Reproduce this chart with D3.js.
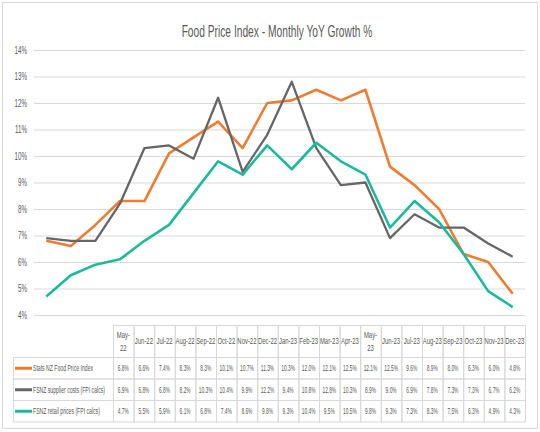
<!DOCTYPE html>
<html>
<head>
<meta charset="utf-8">
<script src="https://cdn.jsdelivr.net/npm/d3@7"></script>
<style>
  body { margin: 0; background: #fff; }
  text { font-family: "Liberation Sans", Arial, sans-serif; fill: #595959; }
</style>
</head>
<body>
<div id="chart"></div>
<script>
(function () {
    'use strict';

    // --- data ---
    var months = ['May-22', 'Jun-22', 'Jul-22', 'Aug-22', 'Sep-22', 'Oct-22', 'Nov-22', 'Dec-22',
        'Jan-23', 'Feb-23', 'Mar-23', 'Apr-23', 'May-23', 'Jun-23', 'Jul-23', 'Aug-23',
        'Sep-23', 'Oct-23', 'Nov-23', 'Dec-23'];
    var seriesNames = ['Stats NZ Food Price Index', 'FSNZ supplier costs (FPI calcs)', 'FSNZ retail prices (FPI calcs)'];
    var statsNz = [6.8, 6.6, 7.4, 8.3, 8.3, 10.1, 10.7, 11.3, 10.3, 12.0, 12.1, 12.5, 12.1, 12.5, 9.6, 8.9, 8.0, 6.3, 6.0, 4.8];
    var supplier = [6.9, 6.8, 6.8, 8.2, 10.3, 10.4, 9.9, 12.2, 9.4, 10.8, 12.8, 10.3, 8.9, 9.0, 6.9, 7.8, 7.3, 7.3, 6.7, 6.2];
    var retail = [4.7, 5.5, 5.9, 6.1, 6.8, 7.4, 8.6, 9.8, 9.3, 10.4, 9.5, 10.5, 9.8, 9.3, 7.3, 8.3, 7.5, 6.3, 4.9, 4.3];
    var yTicks = [4, 5, 6, 7, 8, 9, 10, 11, 12, 13, 14];

    var series = [statsNz, supplier, retail];
    var colors = ['#ed7d31', '#666666', '#1cb99b'];

    var W = 540, H = 432;
    var svg = d3.select('#chart').append('svg')
        .attr('width', W)
        .attr('height', H);

    svg.append('rect')
        .attr('x', 0).attr('y', 0).attr('width', W).attr('height', H)
        .attr('fill', '#fff');
    svg.append('rect')
        .attr('x', 2.5).attr('y', 2.5).attr('width', 535).attr('height', 426)
        .attr('fill', 'none').attr('stroke', '#d9d9d9');

    // squeezed text, the reference font is very narrow
    function label(g, x, y, str, size, sx, anchor) {
        return g.append('text')
            .attr('transform', 'translate(' + x + ',' + y + ') scale(' + sx + ',1)')
            .attr('text-anchor', anchor || 'start')
            .style('font-size', size + 'px')
            .text(str);
    }

    label(svg, 277, 37, 'Food Price Index - Monthly YoY Growth %', 16.5, 0.62, 'middle');

    var x = d3.scaleBand().domain(months).range([34, 525]);
    var y = d3.scaleLinear().domain([4, 14]).range([315, 50]);

    // gridlines + y labels
    var grid = svg.append('g');
    yTicks.forEach(function (t) {
        grid.append('line')
            .attr('x1', 34).attr('x2', 525)
            .attr('y1', y(t) + 0.5).attr('y2', y(t) + 0.5)
            .attr('stroke', '#d9d9d9').attr('stroke-width', 1.2);
        label(grid, 27, y(t) + 3.5, t + '%', 10, 0.62, 'end');
    });

    // lines
    var line = d3.line()
        .x(function (d, i) { return x(months[i]) + x.bandwidth() / 2; })
        .y(function (d) { return y(d); });

    series.forEach(function (s, k) {
        svg.append('path')
            .datum(s)
            .attr('d', line)
            .attr('fill', 'none')
            .attr('stroke', colors[k])
            .attr('stroke-width', k === 1 ? 2.3 : 2.6)
            .attr('stroke-linejoin', 'round');
    });

    // data table
    var tx = d3.scaleBand().domain(months).range([113, 525]);
    var headTop = 325, headBot = 357, rowH = 21.5;
    var tab = svg.append('g');
    var bc = '#d9d9d9';

    months.forEach(function (m) {
        var cx = tx(m) + tx.bandwidth() / 2;
        tab.append('rect')
            .attr('x', tx(m) + 0.5).attr('y', headTop + 0.5)
            .attr('width', tx.bandwidth()).attr('height', headBot - headTop)
            .attr('fill', 'none').attr('stroke', bc);
        if (m.indexOf('May') === 0) {
            label(tab, cx, 338, m.split('-')[0] + '-', 9, 0.66, 'middle');
            label(tab, cx, 351, m.split('-')[1], 9, 0.66, 'middle');
        } else {
            label(tab, cx, 344, m, 9, 0.66, 'middle');
        }
    });

    series.forEach(function (s, k) {
        var top = headBot + k * rowH;
        tab.append('rect')
            .attr('x', 13.5).attr('y', top + 0.5)
            .attr('width', 113 - 13).attr('height', rowH)
            .attr('fill', 'none').attr('stroke', bc);
        tab.append('line')
            .attr('x1', 15).attr('x2', 32)
            .attr('y1', top + rowH / 2 + 0.5).attr('y2', top + rowH / 2 + 0.5)
            .attr('stroke', colors[k]).attr('stroke-width', 3);
        label(tab, 33, top + rowH / 2 + 3.5, seriesNames[k], 9, 0.57);
        s.forEach(function (v, i) {
            tab.append('rect')
                .attr('x', tx(months[i]) + 0.5).attr('y', top + 0.5)
                .attr('width', tx.bandwidth()).attr('height', rowH)
                .attr('fill', 'none').attr('stroke', bc);
            label(tab, tx(months[i]) + tx.bandwidth() / 2, top + rowH / 2 + 3.5,
                v.toFixed(1) + '%', 8.8, 0.55, 'middle');
        });
    });
})();
</script>
</body>
</html>
